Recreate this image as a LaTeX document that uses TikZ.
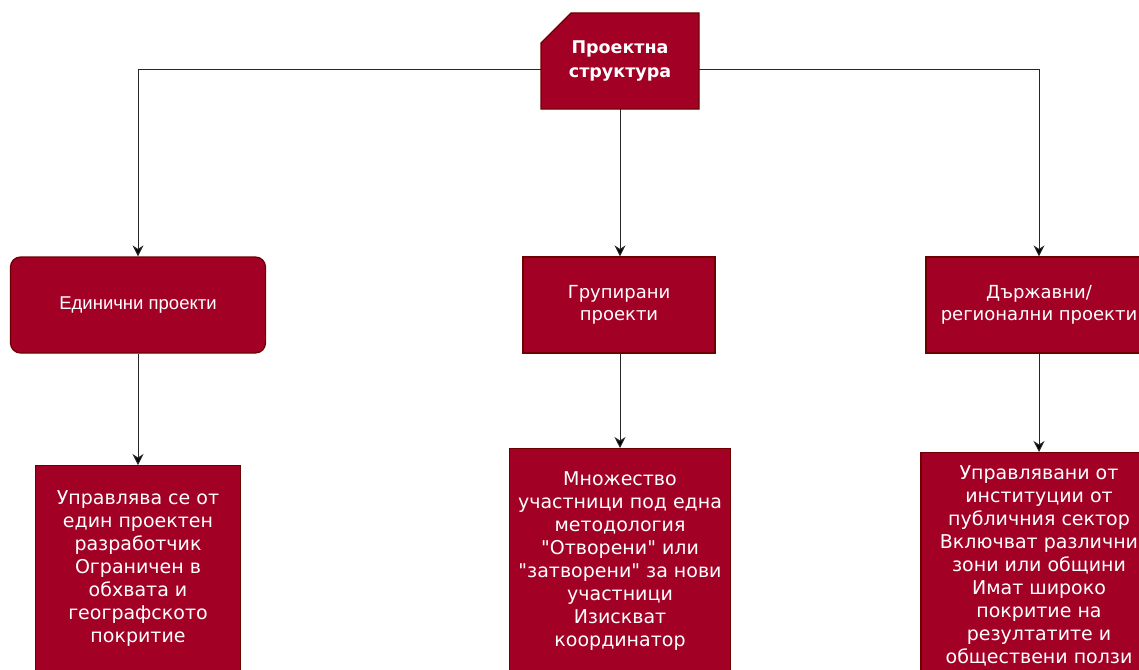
\documentclass[tikz,border=0pt]{standalone}
\usepackage{fontspec}
\newfontfamily\dejavu{DejaVu Sans}
\newfontfamily\arialf{Liberation Sans}
\usetikzlibrary{arrows.meta}
\definecolor{crim}{HTML}{A20025}
\definecolor{crimdark}{HTML}{6F0000}
\tikzset{
  box/.style={rectangle, fill=crim, draw=crimdark, line width=1.2pt, text=white, align=center, inner sep=2pt},
  midbox/.style={box, minimum height=96pt, font=\dejavu\fontsize{18}{22}\selectfont},
  lowbox/.style={box, anchor=north, font=\dejavu\fontsize{19}{23}\selectfont},
  conn/.style={draw=black!85, line width=1pt, -{Stealth[length=11pt,width=11pt,inset=3.5pt,fill=black]}},
}
\begin{document}
\begin{tikzpicture}[x=1pt,y=-1pt]
\clip (0,0) rectangle (1139,669);
\fill[white] (0,0) rectangle (1139,669);
% top card shape
\path[fill=crim, draw=crimdark, line width=1.2pt] (541,43) -- (571,13) -- (699,13) -- (699,109) -- (541,109) -- cycle;
\node[text=white, align=center, minimum width=158pt, minimum height=96pt, inner sep=0pt,
      font=\dejavu\bfseries\fontsize{17.5}{24}\selectfont] (top) at (620,61) {Проектна\\структура};
% middle row
\node[midbox, rounded corners=10pt, minimum width=255pt, font=\arialf\fontsize{18.5}{22}\selectfont] (n1) at (138,305) {Единични проекти};
\node[midbox, minimum width=192pt] (n2) at (619,305) {Групирани\\проекти};
\node[midbox, minimum width=226pt] (n3) at (1039,305) {Държавни/\\регионални проекти};
% bottom row
\node[lowbox, minimum width=205pt, minimum height=206pt] (b1) at (138,465)
  {Управлява се от\\един проектен\\разработчик\\Ограничен в\\обхвата и\\географското\\покритие};
\node[lowbox, minimum width=221pt, minimum height=224pt] (b2) at (620,448)
  {Множество\\участници под една\\методология\\"Отворени" или\\"затворени" за нови\\участници\\Изискват\\координатор};
\node[lowbox, minimum width=236pt, minimum height=226pt] (b3) at (1039,452)
  {Управлявани от\\институции от\\публичния сектор\\Включват различни\\зони или общини\\Имат широко\\покритие на\\резултатите и\\обществени ползи};
% connectors
\draw[conn] ([yshift=-8pt]top.west) -| (n1.north);
\draw[conn] ([yshift=-8pt]top.east) -| (n3.north);
\draw[conn] (top.south) -- (top.south |- n2.north);
\draw[conn] (n1.south) -- (b1.north);
\draw[conn] (n2.south -| b2.north) -- (b2.north);
\draw[conn] (n3.south) -- (b3.north);
\end{tikzpicture}
\end{document}
